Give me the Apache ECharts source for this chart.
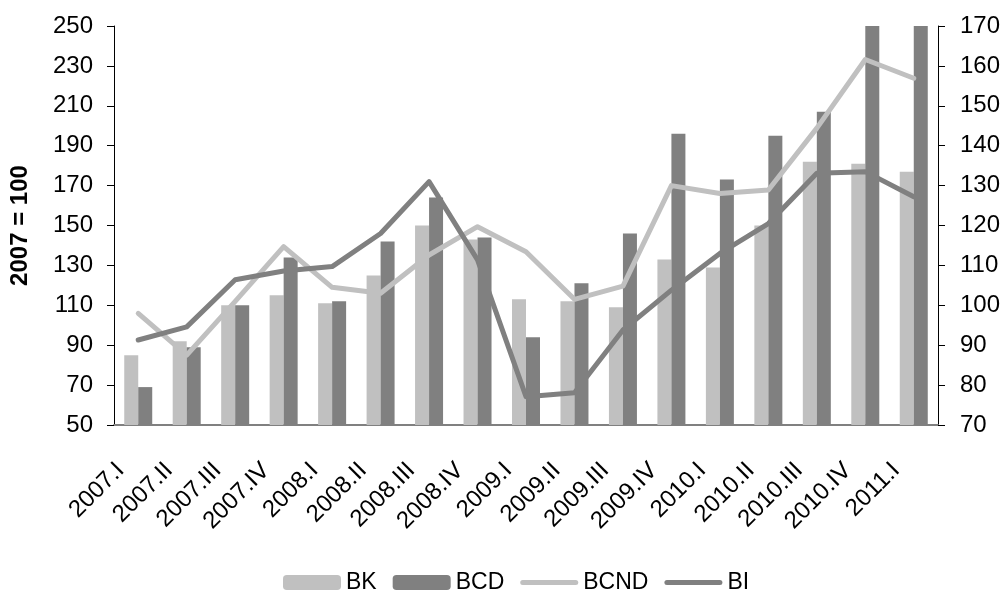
<!DOCTYPE html>
<html><head><meta charset="utf-8">
<script src="https://cdn.jsdelivr.net/npm/echarts@6/dist/echarts.min.js"></script>
<style>html,body{margin:0;padding:0;background:#fff}#c{width:1004px;height:590px}</style>
</head><body><div id="c"></div>
<script>
const categories = ['2007.I','2007.II','2007.III','2007.IV','2008.I','2008.II','2008.III','2008.IV','2009.I','2009.II','2009.III','2009.IV','2010.I','2010.II','2010.III','2010.IV','2011.I'];
const BK   = [85, 92, 110, 115, 111, 125, 150, 143, 113, 112, 109, 133, 129, 150, 182, 181, 177];
const BCD  = [69, 89, 110, 134, 112, 142, 164, 144, 94, 121, 146, 196, 173, 195, 207, 253, 253];
const BCND = [98, 87.5, 101, 114.7, 104.5, 103, 112.6, 119.7, 113.4, 101.5, 104.8, 130, 128, 128.9, 144.4, 161.6, 156.9];
const BI   = [91.3, 94.6, 106.4, 108.6, 109.7, 118, 131, 111.4, 77.1, 78.1, 93.8, 103.8, 113, 120.5, 133.1, 133.5, 127.2];
const leftTicks = {min: 50, max: 250, interval: 20};
const rightTicks = {min: 70, max: 170, interval: 10};
const yTitle = '2007 = 100';

const LIGHT = '#c0c0c0', DARK = '#808080';
const FONT = 'Liberation Sans, Arial, sans-serif';
const LINE_ICON = 'path://M0,0M58,15M2.5,5H55.5A2.5,2.5,0,0,1,55.5,10H2.5A2.5,2.5,0,0,1,2.5,5Z';
const chart = echarts.init(document.getElementById('c'), null, {renderer: 'canvas'});
const lineStyle = (c) => ({color: c, width: 5, cap: 'round', join: 'round'});
chart.setOption({
  animation: false,
  textStyle: {fontFamily: FONT},
  grid: {left: 113, right: 66, top: 26, bottom: 165, containLabel: false},
  legend: {
    left: 278, top: 566, itemWidth: 58, itemHeight: 15, itemGap: 16,
    textStyle: {fontSize: 23, color: '#000', fontFamily: FONT, padding: [6, 0, 0, 0]},
    data: [{name: 'BK'}, {name: 'BCD'}, {name: 'BCND', icon: LINE_ICON}, {name: 'BI', icon: LINE_ICON}]
  },
  xAxis: {
    type: 'category', data: categories,
    axisLine: {lineStyle: {color: DARK, width: 2}},
    axisTick: {show: false},
    axisLabel: {rotate: 45, fontSize: 24, color: '#000', margin: 24, interval: 0, padding: [0, 25, 0, 0]}
  },
  yAxis: [
    {type: 'value', min: leftTicks.min, max: leftTicks.max, interval: leftTicks.interval,
     name: yTitle, nameLocation: 'middle', nameGap: 82, nameRotate: 90,
     nameTextStyle: {fontSize: 24, fontWeight: 'bold', color: '#000'},
     axisLine: {show: true, lineStyle: {color: '#000', width: 1}},
     axisTick: {show: true, length: 7, lineStyle: {color: '#000'}},
     axisLabel: {fontSize: 24, color: '#000', margin: 21},
     splitLine: {show: false}},
    {type: 'value', min: rightTicks.min, max: rightTicks.max, interval: rightTicks.interval,
     position: 'right',
     axisLine: {show: true, lineStyle: {color: '#000', width: 1}},
     axisTick: {show: true, length: 7, lineStyle: {color: '#000'}},
     axisLabel: {fontSize: 24, color: '#000', margin: 22},
     splitLine: {show: false}}
  ],
  series: [
    {name: 'BK', type: 'bar', data: BK, barWidth: 14, barGap: '0%', itemStyle: {color: LIGHT}},
    {name: 'BCD', type: 'bar', data: BCD, barWidth: 14, barGap: '0%', itemStyle: {color: DARK}},
    {name: 'BCND', type: 'line', yAxisIndex: 1, data: BCND, symbol: 'none', lineStyle: lineStyle(LIGHT), itemStyle: {color: LIGHT}},
    {name: 'BI', type: 'line', yAxisIndex: 1, data: BI, symbol: 'none', lineStyle: lineStyle(DARK), itemStyle: {color: DARK}}
  ]
});
</script></body></html>
